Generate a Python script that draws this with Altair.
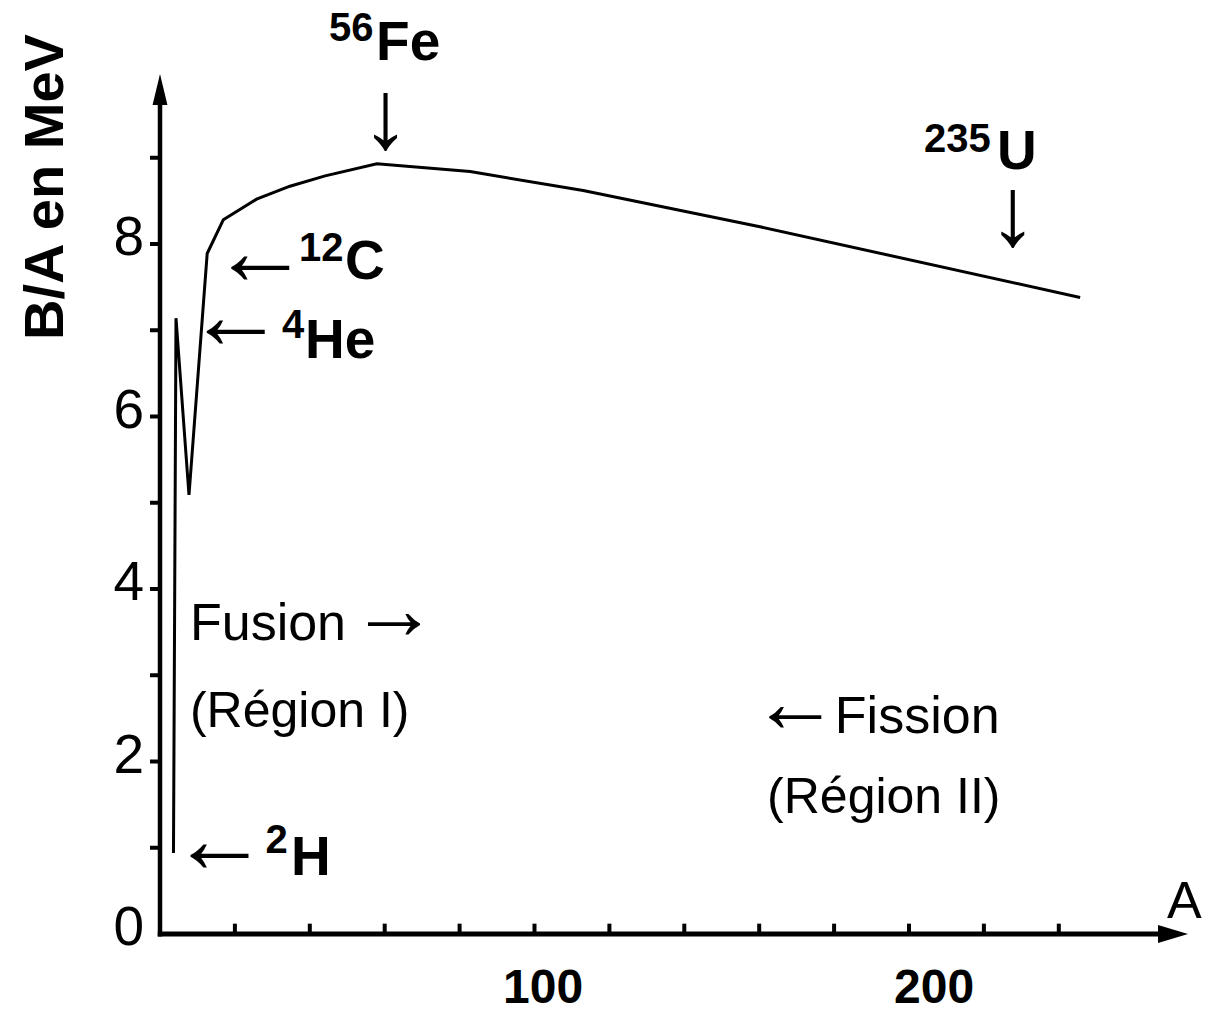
import altair as alt
import pandas as pd

# ---- binding energy curve (A, B/A in MeV) ----
A_vals = [3.6, 4.27, 7.74, 12.6, 16.9, 25.8, 34.7, 44.1, 57.9, 82.8, 113.0, 160.2, 245.7]
BA_vals = [0.94, 7.14, 5.09, 7.89, 8.28, 8.52, 8.67, 8.79, 8.93, 8.84, 8.62, 8.20, 7.38]

# ---- axes ----
x_minor_ticks = [20, 40, 60, 80, 100, 120, 140, 160, 180, 200, 220, 240]
y_ticks = [1, 2, 3, 4, 5, 6, 7, 8, 9]
y_label_values = [0, 2, 4, 6, 8]
y_label_text = ["0", "2", "4", "6", "8"]
x_label_text = ["100", "200"]
x_label_A = [102.3, 206.7]
x_label_BA = [-0.80, -0.80]

# ---- nuclide labels ----
bold_text = ["Fe", "U", "C", "He", "H"]
bold_A = [57.7, 223.5, 49.4, 38.7, 35.0]
bold_BA = [10.13, 8.87, 7.59, 6.68, 0.684]

sup_text = ["56", "235", "12", "4", "2"]
sup_A = [45.1, 204.0, 37.1, 32.6, 28.2]
sup_BA = [10.35, 9.07, 7.80, 6.91, 0.936]

harrow_A = [26.8, 20.2, 15.9]
harrow_BA = [7.871, 7.136, 1.054]
varrow_A = [60.3, 227.8]
varrow_BA = [9.454, 8.323]

region_text = ["Fusion", "Fission", "A"]
region_A = [8.0, 180.2, 268.9]
region_BA = [3.41, 2.33, 0.186]
sub_text = ["(R\u00e9gion I)", "(R\u00e9gion II)"]
sub_A = [8.0, 162.1]
sub_BA = [2.40, 1.40]
region_arrow_text = ["\u2192", "\u2190"]
region_arrow_A = [62.5, 169.6]
region_arrow_BA = [3.72, 2.638]

title_text = ["B/A en MeV"]
title_A = [-26.0]
title_BA = [8.66]

FONT = "Liberation Sans"
xs = alt.Scale(domain=[0, 278], nice=False, zero=False)
ys = alt.Scale(domain=[0, 10], nice=False, zero=False)


def X(field="A"):
    return alt.X(f"{field}:Q", scale=xs, axis=None)


def Y(field="BA"):
    return alt.Y(f"{field}:Q", scale=ys, axis=None)


def texts(t, a, b, **kw):
    base = dict(font=FONT, color="black", baseline="alphabetic", align="left")
    base.update(kw)
    return alt.Chart(pd.DataFrame({"t": t, "A": a, "BA": b})).mark_text(**base).encode(
        x=X(), y=Y(), text="t:N")


curve_df = pd.DataFrame({"A": A_vals, "BA": BA_vals, "o": list(range(len(A_vals)))})
curve = alt.Chart(curve_df).mark_line(color="black", strokeWidth=3).encode(
    x=X(), y=Y(), order="o:Q")

# axis lines
yaxis = alt.Chart(pd.DataFrame({"A": [0], "BA": [-0.03], "BA2": [9.62]})).mark_rule(
    color="black", strokeWidth=4.5).encode(x=X(), y=Y(), y2="BA2:Q")
xaxis = alt.Chart(pd.DataFrame({"A": [-0.6], "A2": [266.5], "BA": [0]})).mark_rule(
    color="black", strokeWidth=5).encode(x=X(), x2="A2:Q", y=Y())

yhead = alt.Chart(pd.DataFrame({"A": [0], "BA": [9.79]})).mark_point(
    shape="M0,-1L0.48,1L-0.48,1Z", filled=True, color="black", opacity=1, size=961, strokeWidth=0
).encode(x=X(), y=Y())
xhead = alt.Chart(pd.DataFrame({"A": [270.5], "BA": [0]})).mark_point(
    shape="M1,0L-1,0.6L-1,-0.6Z", filled=True, color="black", opacity=1, size=900, strokeWidth=0
).encode(x=X(), y=Y())

xticks = alt.Chart(pd.DataFrame({"A": x_minor_ticks, "BA": [0] * len(x_minor_ticks),
                                 "BA2": [0.12] * len(x_minor_ticks)})).mark_rule(
    color="black", strokeWidth=4).encode(x=X(), y=Y(), y2="BA2:Q")
yticks = alt.Chart(pd.DataFrame({"A": [0] * len(y_ticks), "A2": [-2.67] * len(y_ticks),
                                 "BA": y_ticks})).mark_rule(
    color="black", strokeWidth=4).encode(x=X(), x2="A2:Q", y=Y())

ylab = texts(y_label_text, [-4.27] * len(y_label_text), y_label_values,
             fontSize=55, align="right", dy=11)
xlab = texts(x_label_text, x_label_A, x_label_BA, fontSize=48, fontWeight="bold", align="center")
bold = texts(bold_text, bold_A, bold_BA, fontSize=55, fontWeight="bold")
sup = texts(sup_text, sup_A, sup_BA, fontSize=40, fontWeight="bold")
harrows = texts(["\u2190"] * 3, harrow_A, harrow_BA, fontSize=98, align="center", baseline="middle")
varrows = texts(["\u2193"] * 2, varrow_A, varrow_BA, fontSize=98, align="center", baseline="middle")
regions = texts(region_text, region_A, region_BA, fontSize=52)
subs = texts(sub_text, sub_A, sub_BA, fontSize=50)
rarrows = texts(region_arrow_text, region_arrow_A, region_arrow_BA, fontSize=88,
                align="center", baseline="middle")
ytitle = texts(title_text, title_A, title_BA, fontSize=56, fontWeight="bold",
               align="center", angle=270)

chart = alt.layer(
    curve, yaxis, xaxis, yhead, xhead, xticks, yticks, ylab, xlab, bold, sup,
    harrows, varrows, regions, subs, rarrows, ytitle
).properties(
    width=1041.1, height=862.5,
    padding={"left": 152, "top": 63.5, "right": 5.9, "bottom": 70},
    autosize=alt.AutoSizeParams(type="none"),
    background="white",
).configure_view(stroke=None)

chart.save("out.html", embed_options={"renderer": "svg", "actions": False})
